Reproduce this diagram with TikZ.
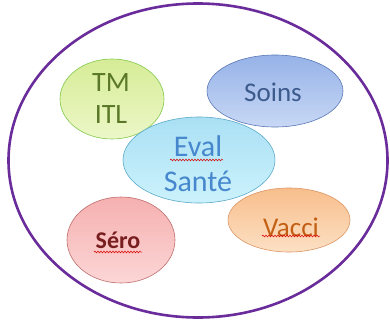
\documentclass[tikz,border=0pt]{standalone}
\usepackage{fontspec}
\setmainfont{Carlito}
\usetikzlibrary{shapes.geometric,decorations.pathmorphing}
\definecolor{outer}{HTML}{6A2C9A}
\tikzset{
  blob/.style={ellipse, inner sep=0pt, line width=0.6pt},
  lbl/.style={align=center, inner sep=0pt},
  spell/.style={draw=red!85!black, line width=0.5pt, decorate,
    decoration={snake, amplitude=0.9pt, segment length=3pt}}
}
\begin{document}
\begin{tikzpicture}[x=1pt,y=-1pt]
\useasboundingbox (0,0) rectangle (390,321);
\fill[white] (0,0) rectangle (390,321);
\node[ellipse, draw=outer, line width=2.6pt, minimum width=379pt, minimum height=314pt] (outerE) at (198,160.5) {};
% green
\node[blob, minimum width=104pt, minimum height=80pt, draw=green!40!olive!70, top color={rgb,255:red,214;green,236;blue,150}, bottom color={rgb,255:red,236;green,247;blue,200}] (tm) at (112,99) {};
% blue
\node[blob, minimum width=136pt, minimum height=72pt, draw={rgb,255:red,90;green,120;blue,180}, top color={rgb,255:red,150;green,178;blue,232}, bottom color={rgb,255:red,200;green,216;blue,245}] (soins) at (275,91) {};
% red
\node[blob, minimum width=108pt, minimum height=86pt, draw={rgb,255:red,190;green,110;blue,110}, top color={rgb,255:red,246;green,176;blue,176}, bottom color={rgb,255:red,252;green,214;blue,214}] (sero) at (121,240) {};
% orange
\node[blob, minimum width=122pt, minimum height=64pt, draw={rgb,255:red,220;green,150;blue,100}, top color={rgb,255:red,248;green,190;blue,140}, bottom color={rgb,255:red,252;green,224;blue,196}] (vacci) at (289,220) {};
% cyan
\node[blob, minimum width=152pt, minimum height=86pt, draw={rgb,255:red,90;green,170;blue,200}, top color={rgb,255:red,170;green,224;blue,244}, bottom color={rgb,255:red,204;green,242;blue,252}] (eval) at (199,160) {};
% labels
\node[lbl, text={rgb,255:red,90;green,120;blue,40}, font=\fontsize{28}{32}\selectfont] (tmT) at (111,99) {TM\\ITL};
\node[lbl, text={rgb,255:red,60;green,90;blue,140}, font=\fontsize{27}{30}\selectfont] (soinsT) at (273,92) {Soins};
\node[lbl, text={rgb,255:red,70;green,135;blue,205}, font=\fontsize{30}{35}\selectfont] (evalT) at (198,164) {Eval\\Santé};
\node[lbl, text={rgb,255:red,120;green,30;blue,30}, font=\bfseries\fontsize{24}{28}\selectfont] (seroT) at (118,240) {Séro};
\node[lbl, text={rgb,255:red,195;green,95;blue,20}, font=\fontsize{27}{30}\selectfont] (vacciT) at (291,227) {Vacci};
% spell-check underlines
\coordinate (e1) at (170,160); \coordinate (e2) at (223,160);
\draw[spell] (e1) -- (e2);
\coordinate (s1) at (94,252); \coordinate (s2) at (142,252);
\draw[spell] (s1) -- (s2);
\coordinate (v1) at (262,236); \coordinate (v2) at (320,236);
\draw[spell] (v1) -- (v2);
\end{tikzpicture}
\end{document}
